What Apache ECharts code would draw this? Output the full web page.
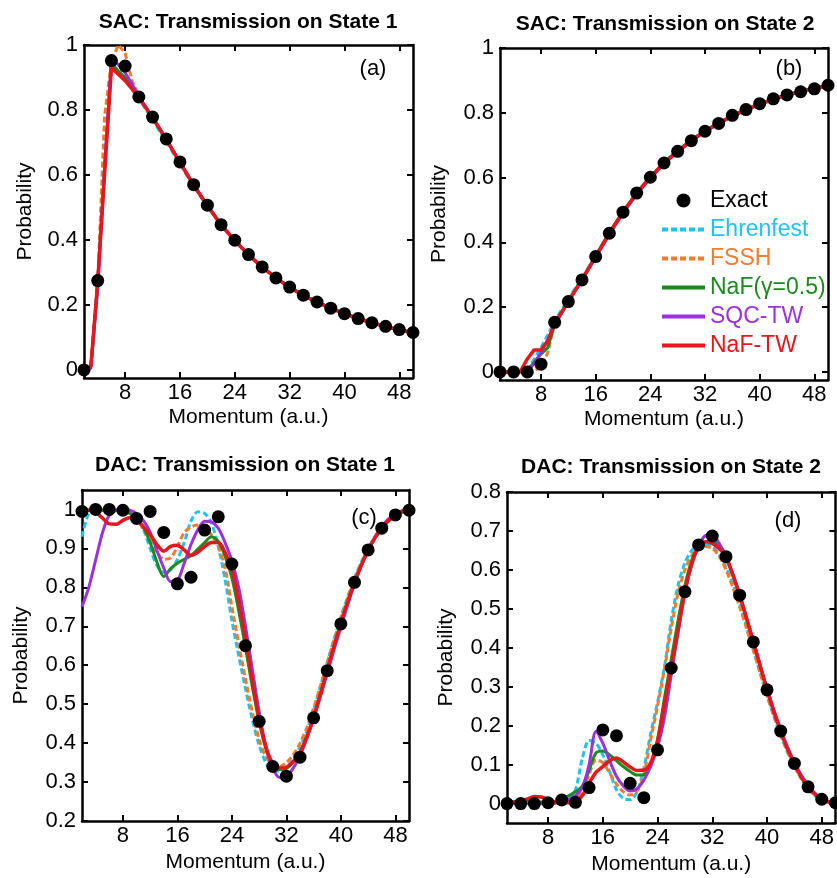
<!DOCTYPE html>
<html>
<head>
<meta charset="utf-8">
<title>Transmission probabilities</title>
<script src="https://cdn.jsdelivr.net/npm/echarts@6/dist/echarts.min.js"></script>
<style>
  html, body { margin: 0; padding: 0; background: #fff; }
  #chart { width: 837px; height: 878px; }
</style>
</head>
<body>
<div id="chart"></div>
<script>
// ---- momentum grids ----
const exactX = [2, 4, 6, 8, 10, 12, 14, 16, 18, 20, 22, 24, 26, 28, 30, 32, 34, 36, 38, 40, 42, 44, 46, 48, 50];
const sacLineX = [2, 3, 4, 5, 6, 7, 8, 9, 10, 12, 14, 16, 18, 20, 22, 24, 26, 28, 30, 32, 34, 36, 38, 40, 42, 44, 46, 48, 50];
const dacLineX = [2, 3, 4, 5, 6, 7, 8, 9, 10, 11, 12, 13, 14, 15, 16, 17, 18, 19, 20, 21, 22, 23, 24, 25, 26,
                  27, 28, 29, 30, 31, 32, 33, 34, 35, 36, 37, 38, 39, 40, 41, 42, 43, 44, 45, 46, 47, 48, 49, 50];

// ---- tick labels ----
const momentumTicks = [8, 16, 24, 32, 40, 48];
const sacProbTicks = [0, 0.2, 0.4, 0.6, 0.8, 1];
const dac1ProbTicks = [0.2, 0.3, 0.4, 0.5, 0.6, 0.7, 0.8, 0.9, 1];
const dac2ProbTicks = [0, 0.1, 0.2, 0.3, 0.4, 0.5, 0.6, 0.7, 0.8];

// ---- (a) SAC, state 1 ----
const aExact = [0.0, 0.275, 0.952, 0.935, 0.840, 0.778, 0.711, 0.640, 0.570, 0.507, 0.447, 0.399, 0.355, 0.317, 0.283, 0.255, 0.230, 0.209, 0.190, 0.173, 0.158, 0.145, 0.134, 0.124, 0.115];
const aEhrenfest = [0, 0.01, 0.27, 0.62, 0.94, 0.915, 0.893, 0.864, 0.835, 0.77, 0.703, 0.633, 0.565, 0.503, 0.445, 0.397, 0.353, 0.316, 0.283, 0.254, 0.229, 0.208, 0.19, 0.173, 0.158, 0.145, 0.133, 0.123, 0.114];
const aFSSH = [0, 0.01, 0.27, 0.78, 0.95, 1.0, 0.975, 0.89, 0.843, 0.777, 0.71, 0.639, 0.569, 0.506, 0.447, 0.398, 0.354, 0.316, 0.283, 0.254, 0.229, 0.208, 0.19, 0.173, 0.158, 0.145, 0.133, 0.123, 0.114];
const aNaF = [0, 0.01, 0.27, 0.62, 0.945, 0.92, 0.9, 0.87, 0.84, 0.777, 0.71, 0.639, 0.569, 0.506, 0.447, 0.398, 0.355, 0.317, 0.284, 0.255, 0.23, 0.209, 0.191, 0.174, 0.159, 0.146, 0.134, 0.124, 0.115];
const aSQC = [0, 0.005, 0.25, 0.62, 0.955, 0.94, 0.915, 0.88, 0.842, 0.778, 0.711, 0.64, 0.57, 0.507, 0.448, 0.399, 0.355, 0.317, 0.283, 0.255, 0.23, 0.209, 0.19, 0.173, 0.158, 0.145, 0.134, 0.124, 0.115];
const aNaFTW = [0, 0.01, 0.27, 0.6, 0.93, 0.91, 0.89, 0.865, 0.838, 0.776, 0.709, 0.638, 0.568, 0.505, 0.446, 0.398, 0.354, 0.316, 0.283, 0.254, 0.229, 0.208, 0.19, 0.173, 0.158, 0.145, 0.133, 0.123, 0.113];

// ---- (b) SAC, state 2 ----
const bExact = [0.0, 0.0, 0.0, 0.024, 0.153, 0.217, 0.284, 0.356, 0.428, 0.493, 0.552, 0.601, 0.645, 0.681, 0.714, 0.743, 0.767, 0.792, 0.810, 0.828, 0.843, 0.855, 0.865, 0.874, 0.885];
const bEhrenfest = [0, 0, 0, 0.002, 0.005, 0.04, 0.075, 0.115, 0.157, 0.225, 0.29, 0.36, 0.43, 0.494, 0.552, 0.602, 0.646, 0.683, 0.715, 0.744, 0.768, 0.79, 0.809, 0.826, 0.841, 0.854, 0.865, 0.875, 0.884];
const bFSSH = [0, 0, 0, 0, 0, 0.003, 0.015, 0.06, 0.15, 0.218, 0.286, 0.357, 0.43, 0.495, 0.553, 0.602, 0.646, 0.682, 0.715, 0.744, 0.768, 0.79, 0.809, 0.827, 0.842, 0.855, 0.866, 0.875, 0.884];
const bNaF = [0, 0, 0, 0.001, 0.005, 0.03, 0.055, 0.075, 0.148, 0.22, 0.287, 0.358, 0.43, 0.495, 0.553, 0.602, 0.647, 0.683, 0.716, 0.745, 0.769, 0.791, 0.81, 0.828, 0.843, 0.856, 0.867, 0.876, 0.885];
const bSQC = [0, 0, 0, 0, 0.003, 0.025, 0.06, 0.1, 0.145, 0.215, 0.283, 0.353, 0.424, 0.49, 0.548, 0.598, 0.642, 0.679, 0.712, 0.742, 0.766, 0.789, 0.808, 0.826, 0.841, 0.854, 0.865, 0.875, 0.884];
const bNaFTW = [0, 0, 0, 0.002, 0.04, 0.068, 0.068, 0.095, 0.15, 0.217, 0.285, 0.356, 0.428, 0.493, 0.551, 0.601, 0.645, 0.681, 0.714, 0.743, 0.767, 0.791, 0.81, 0.827, 0.842, 0.855, 0.866, 0.875, 0.885];

// ---- (c) DAC, state 1 ----
const cExact = [0.995, 1.0, 1.0, 0.998, 0.977, 0.995, 0.941, 0.809, 0.826, 0.947, 0.981, 0.860, 0.650, 0.456, 0.340, 0.315, 0.364, 0.465, 0.586, 0.706, 0.813, 0.896, 0.952, 0.986, 0.998];
const cEhrenfest = [0.93, 0.99, 0.999, 1.0, 1.0, 1.0, 1.0, 0.995, 0.98,
  0.95, 0.9, 0.856, 0.838, 0.845, 0.872, 0.915, 0.97, 0.994, 0.99,
  0.965, 0.905, 0.82, 0.715, 0.625, 0.54, 0.46, 0.395, 0.35, 0.33,
  0.328, 0.338, 0.36, 0.39, 0.432, 0.485, 0.545, 0.607, 0.667, 0.724,
  0.776, 0.824, 0.865, 0.9, 0.93, 0.955, 0.973, 0.986, 0.994, 0.998];
const cFSSH = [0.995, 0.998, 0.999, 0.999, 0.999, 0.999, 0.998, 0.99, 0.975,
  0.95, 0.92, 0.89, 0.872, 0.875, 0.905, 0.94, 0.955, 0.96, 0.955,
  0.935, 0.905, 0.85, 0.75, 0.655, 0.565, 0.48, 0.41, 0.365, 0.345,
  0.34, 0.35, 0.37, 0.4, 0.44, 0.49, 0.547, 0.607, 0.665, 0.72,
  0.772, 0.82, 0.862, 0.898, 0.928, 0.953, 0.972, 0.985, 0.993, 0.998];
const cNaF = [0.998, 0.998, 0.998, 0.998, 0.998, 0.998, 0.997, 0.99, 0.978,
  0.955, 0.915, 0.865, 0.828, 0.848, 0.862, 0.872, 0.882, 0.898, 0.915,
  0.93, 0.918, 0.88, 0.825, 0.74, 0.645, 0.545, 0.455, 0.385, 0.345,
  0.332, 0.335, 0.352, 0.378, 0.418, 0.468, 0.527, 0.59, 0.65, 0.708,
  0.763, 0.813, 0.857, 0.895, 0.926, 0.951, 0.97, 0.984, 0.993, 0.998];
const cSQC = [0.75, 0.8, 0.87, 0.94, 0.985, 0.998, 1.0, 0.998, 0.99,
  0.972, 0.942, 0.895, 0.85, 0.815, 0.818, 0.862, 0.91, 0.948, 0.97,
  0.968, 0.952, 0.915, 0.868, 0.8, 0.7, 0.59, 0.48, 0.39, 0.335,
  0.312, 0.315, 0.335, 0.367, 0.412, 0.463, 0.52, 0.58, 0.64, 0.698,
  0.755, 0.808, 0.855, 0.895, 0.929, 0.956, 0.976, 0.989, 0.997, 0.999];
const cNaFTW = [1.0, 0.998, 0.993, 0.978, 0.963, 0.962, 0.972, 0.979, 0.975,
  0.956, 0.935, 0.91, 0.893, 0.905, 0.908, 0.896, 0.882, 0.89, 0.905,
  0.915, 0.915, 0.89, 0.845, 0.765, 0.67, 0.56, 0.465, 0.39, 0.348,
  0.336, 0.338, 0.352, 0.375, 0.415, 0.465, 0.525, 0.588, 0.648, 0.707,
  0.762, 0.812, 0.857, 0.895, 0.927, 0.952, 0.972, 0.986, 0.995, 0.999];

// ---- (d) DAC, state 2 ----
const dExact = [0.0, 0.0, 0.0, 0.002, 0.009, 0.003, 0.041, 0.189, 0.174, 0.052, 0.015, 0.138, 0.348, 0.544, 0.664, 0.687, 0.634, 0.535, 0.415, 0.292, 0.186, 0.103, 0.043, 0.011, 0.002];
const dEhrenfest = [0, 0, 0, 0, 0, 0, 0, 0.001, 0.003,
  0.01, 0.035, 0.115, 0.162, 0.155, 0.125, 0.082, 0.035, 0.013, 0.01,
  0.03, 0.09, 0.18, 0.26, 0.35, 0.47, 0.56, 0.618, 0.65, 0.663,
  0.665, 0.66, 0.64, 0.607, 0.563, 0.512, 0.455, 0.396, 0.336, 0.278,
  0.224, 0.175, 0.132, 0.095, 0.063, 0.038, 0.02, 0.009, 0.003, 0.001];
const dFSSH = [0, 0, 0, 0, 0, 0, 0, 0.001, 0.002,
  0.005, 0.012, 0.03, 0.075, 0.112, 0.105, 0.078, 0.05, 0.03, 0.022,
  0.032, 0.075, 0.165, 0.25, 0.345, 0.45, 0.54, 0.6, 0.637, 0.655,
  0.66, 0.655, 0.635, 0.6, 0.556, 0.505, 0.45, 0.393, 0.335, 0.278,
  0.225, 0.176, 0.133, 0.096, 0.065, 0.04, 0.022, 0.01, 0.004, 0.001];
const dNaF = [0.002, 0.005, 0.005, 0.005, 0.005, 0.004, 0.004, 0.005, 0.01,
  0.02, 0.03, 0.045, 0.085, 0.13, 0.135, 0.125, 0.11, 0.095, 0.082,
  0.073, 0.074, 0.1, 0.165, 0.27, 0.37, 0.47, 0.56, 0.625, 0.66,
  0.672, 0.675, 0.66, 0.63, 0.587, 0.535, 0.476, 0.415, 0.354, 0.294,
  0.237, 0.187, 0.141, 0.102, 0.068, 0.042, 0.024, 0.012, 0.005, 0.002];
const dSQC = [0, 0, 0, 0, 0, 0, 0, 0.002, 0.005,
  0.01, 0.02, 0.04, 0.1, 0.185, 0.155, 0.11, 0.07, 0.045, 0.032,
  0.038, 0.06, 0.095, 0.145, 0.22, 0.33, 0.44, 0.54, 0.615, 0.662,
  0.688, 0.69, 0.668, 0.635, 0.59, 0.538, 0.478, 0.417, 0.355, 0.295,
  0.24, 0.19, 0.145, 0.106, 0.073, 0.047, 0.027, 0.013, 0.005, 0.001];
const dNaFTW = [0.003, 0.004, 0.006, 0.012, 0.018, 0.017, 0.01, 0.004, 0.002,
  0.002, 0.004, 0.02, 0.052, 0.08, 0.095, 0.11, 0.117, 0.107, 0.094,
  0.085, 0.086, 0.105, 0.16, 0.255, 0.35, 0.445, 0.545, 0.615, 0.66,
  0.672, 0.668, 0.655, 0.634, 0.587, 0.535, 0.476, 0.415, 0.353, 0.292,
  0.236, 0.186, 0.14, 0.103, 0.068, 0.043, 0.023, 0.011, 0.004, 0.002];

// ---- styling ----
const FONT = '"Liberation Sans", Arial, Helvetica, sans-serif';
const methods = [
  { name: 'Ehrenfest',        color: '#1fc3f2', width: 3,   dash: [6, 3], z: 2 },
  { name: 'FSSH',             color: '#f47a2c', width: 3,   dash: [6, 3], z: 3 },
  { name: 'NaF(\u03B3=0.5)',  color: '#1b8a1f', width: 3,   dash: 'solid', z: 4 },
  { name: 'SQC-TW',           color: '#9b30df', width: 3,   dash: 'solid', z: 5 },
  { name: 'NaF-TW',           color: '#e5161c', width: 3.5, dash: 'solid', z: 6 }
];

const panels = [
  { grid: { left: 84, top: 45, width: 329, height: 333 }, yMin: -0.025, yMax: 1, yTicks: sacProbTicks,
    xs: sacLineX, smooth: false, exact: aExact,
    curves: [aEhrenfest, aFSSH, aNaF, aSQC, aNaFTW],
    title: 'SAC: Transmission on State 1', titlePos: [248, 12], tag: '(a)', tagPos: [373, 58], xGap: 29, yGap: 48 },
  { grid: { left: 500, top: 48, width: 328, height: 332 }, yMin: -0.025, yMax: 1, yTicks: sacProbTicks,
    xs: sacLineX, smooth: false, exact: bExact,
    curves: [bEhrenfest, bFSSH, bNaF, bSQC, bNaFTW],
    title: 'SAC: Transmission on State 2', titlePos: [665, 14], tag: '(b)', tagPos: [789, 58], xGap: 29, yGap: 50 },
  { grid: { left: 82, top: 490, width: 327, height: 331 }, yMin: 0.2, yMax: 1.05, yTicks: dac1ProbTicks,
    xs: dacLineX, smooth: 0.3, exact: cExact,
    curves: [cEhrenfest, cFSSH, cNaF, cSQC, cNaFTW],
    title: 'DAC: Transmission on State 1', titlePos: [245, 455], tag: '(c)', tagPos: [364, 507], xGap: 31, yGap: 50 },
  { grid: { left: 507, top: 492, width: 329, height: 331 }, yMin: -0.05, yMax: 0.8, yTicks: dac2ProbTicks,
    xs: dacLineX, smooth: 0.3, exact: dExact,
    curves: [dEhrenfest, dFSSH, dNaF, dSQC, dNaFTW],
    title: 'DAC: Transmission on State 2', titlePos: [671, 457], tag: '(d)', tagPos: [788, 510], xGap: 31, yGap: 50 }
];

const axisLine = { show: true, onZero: false, lineStyle: { color: '#000', width: 2.5 } };
const tickStyle = { color: '#000', width: 2 };
const fmt = v => String(Math.round(v * 100) / 100);

const grids = [], xAxes = [], yAxes = [], series = [], titles = [];

panels.forEach((p, gi) => {
  grids.push(Object.assign({ containLabel: false }, p.grid));

  // bottom and top momentum axes
  xAxes.push({
    gridIndex: gi, type: 'value', position: 'bottom', min: 2, max: 50,
    axisLine: axisLine,
    axisTick: { show: true, inside: true, length: 6, lineStyle: tickStyle, customValues: momentumTicks },
    axisLabel: { show: true, customValues: momentumTicks, formatter: fmt, fontSize: 22, color: '#000', fontFamily: FONT, margin: 4 },
    splitLine: { show: false },
    name: 'Momentum (a.u.)', nameLocation: 'middle', nameGap: p.xGap,
    nameTextStyle: { fontSize: 21, color: '#000', fontFamily: FONT }
  });
  xAxes.push({
    gridIndex: gi, type: 'value', position: 'top', min: 2, max: 50,
    axisLine: axisLine,
    axisTick: { show: true, inside: true, length: 6, lineStyle: tickStyle, customValues: momentumTicks },
    axisLabel: { show: false },
    splitLine: { show: false }
  });

  // left and right probability axes
  yAxes.push({
    gridIndex: gi, type: 'value', position: 'left', min: p.yMin, max: p.yMax,
    axisLine: axisLine,
    axisTick: { show: true, inside: true, length: 6, lineStyle: tickStyle, customValues: p.yTicks },
    axisLabel: { show: true, customValues: p.yTicks, formatter: fmt, fontSize: 22, color: '#000', fontFamily: FONT, margin: 6 },
    splitLine: { show: false },
    name: 'Probability', nameLocation: 'middle', nameGap: p.yGap, nameRotate: 90,
    nameTextStyle: { fontSize: 21, color: '#000', fontFamily: FONT }
  });
  yAxes.push({
    gridIndex: gi, type: 'value', position: 'right', min: p.yMin, max: p.yMax,
    axisLine: axisLine,
    axisTick: { show: true, inside: true, length: 6, lineStyle: tickStyle, customValues: p.yTicks },
    axisLabel: { show: false },
    splitLine: { show: false }
  });

  // method curves
  methods.forEach((m, mi) => {
    series.push({
      type: 'line', name: m.name,
      xAxisIndex: gi * 2, yAxisIndex: gi * 2,
      data: p.xs.map((x, i) => [x, p.curves[mi][i]]),
      symbol: 'none', smooth: p.smooth,
      lineStyle: { color: m.color, width: m.width, type: m.dash, cap: 'butt' },
      itemStyle: { color: m.color },
      z: m.z, silent: true, animation: false
    });
  });

  // exact results
  series.push({
    type: 'scatter', name: 'Exact',
    xAxisIndex: gi * 2, yAxisIndex: gi * 2,
    data: exactX.map((x, i) => [x, p.exact[i]]),
    symbol: 'circle', symbolSize: 13,
    itemStyle: { color: '#000', opacity: 1 },
    z: 10, silent: true, animation: false
  });

  titles.push({
    text: p.title, left: p.titlePos[0], top: p.titlePos[1], textAlign: 'center', padding: 0,
    textStyle: { fontSize: 21, fontWeight: 'bold', color: '#000', fontFamily: FONT }
  });
  titles.push({
    text: p.tag, left: p.tagPos[0], top: p.tagPos[1], textAlign: 'center', padding: 0,
    textStyle: { fontSize: 22, fontWeight: 'normal', color: '#000', fontFamily: FONT }
  });
});

// legend entries: line samples only (no marker) for the methods
const legendLine = m => ({
  name: m.name,
  textStyle: { color: m.color },
  itemStyle: { opacity: 0 },
  lineStyle: { width: 4 }
});

const chart = echarts.init(document.getElementById('chart'), null, { renderer: 'canvas' });
chart.setOption({
  backgroundColor: '#fff',
  animation: false,
  title: titles,
  grid: grids,
  xAxis: xAxes,
  yAxis: yAxes,
  legend: {
    orient: 'vertical', left: 660, top: 189, padding: 0,
    itemWidth: 43, itemHeight: 14, itemGap: 6,
    selectedMode: false,
    textStyle: { fontSize: 23, fontFamily: FONT },
    data: [
      { name: 'Exact', textStyle: { color: '#000' }, itemStyle: { opacity: 1 } },
      legendLine(methods[0]),
      legendLine(methods[1]),
      legendLine(methods[2]),
      legendLine(methods[3]),
      legendLine(methods[4])
    ]
  },
  series: series
});
</script>
</body>
</html>
